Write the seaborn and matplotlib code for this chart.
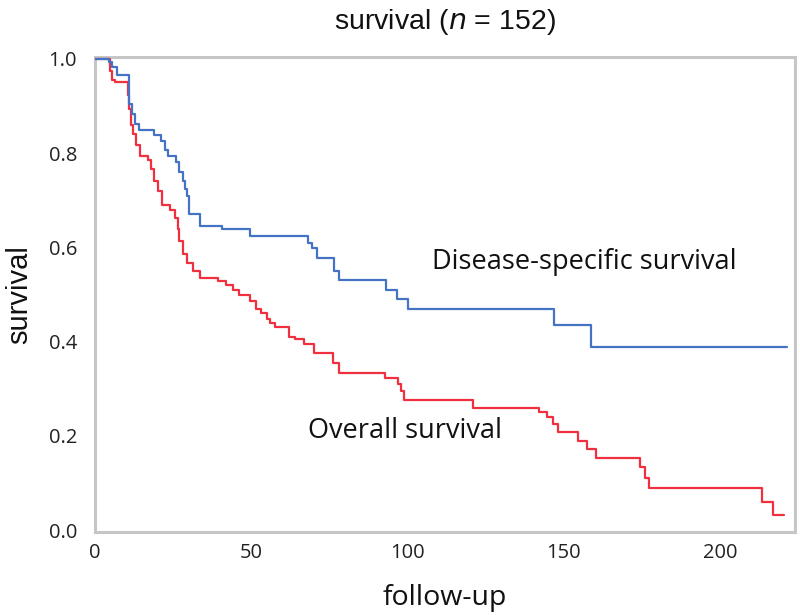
import numpy as np
import pandas as pd
import matplotlib
matplotlib.use("Agg")
import matplotlib.pyplot as plt
import seaborn as sns

# Kaplan-Meier step points (time, survival after the step)
dss_time = [0, 4.5, 5.5, 7, 11, 11.8, 12.8, 14, 16, 19, 21, 22.4, 23.4, 26, 27, 28,
            28.8, 29.4, 30, 33.6, 40.6, 49.6, 68, 69.5, 71, 76.5, 78, 93, 96.5,
            100, 147, 158.7, 221.4]
dss_surv = [1.0, 0.994, 0.983, 0.966, 0.905, 0.884, 0.862, 0.85, 0.85, 0.839, 0.825,
            0.807, 0.793, 0.782, 0.76, 0.74, 0.723, 0.708, 0.67, 0.645, 0.638,
            0.624, 0.609, 0.598, 0.577, 0.55, 0.53, 0.51, 0.49, 0.47, 0.435,
            0.389, 0.389]

os_time = [0, 4.8, 5.4, 6.4, 10.4, 11, 11.6, 12.2, 13, 14.4, 17, 18, 19, 20,
           21.4, 24, 25.6, 26.4, 27, 28, 29.4, 31.4, 33.6, 39.4, 42, 44, 46,
           49.6, 51.5, 53, 55, 56, 57.6, 62, 64, 67, 70, 76, 78, 92.8, 96.8,
           98, 99, 121, 142, 144.5, 146.5, 148, 154.6, 157.5, 160.4, 174.4,
           176, 177.4, 213.4, 217, 220.5]
os_surv = [1.0, 0.975, 0.955, 0.951, 0.924, 0.894, 0.86, 0.84, 0.818, 0.793,
           0.786, 0.767, 0.74, 0.719, 0.69, 0.68, 0.662, 0.64, 0.613, 0.585,
           0.567, 0.55, 0.535, 0.528, 0.52, 0.51, 0.50, 0.486, 0.47, 0.46,
           0.448, 0.44, 0.43, 0.41, 0.405, 0.395, 0.376, 0.355, 0.334, 0.323,
           0.31, 0.296, 0.277, 0.26, 0.25, 0.239, 0.226, 0.209, 0.19, 0.173,
           0.154, 0.133, 0.11, 0.089, 0.059, 0.032, 0.032]

x_ticks = [0, 50, 100, 150, 200]
y_ticks = [0.0, 0.2, 0.4, 0.6, 0.8, 1.0]

sns.set_style("white")
plt.rcParams['font.family'] = ['Open Sans', 'DejaVu Sans']

dss = pd.DataFrame({'time': dss_time, 'survival': dss_surv})
ovs = pd.DataFrame({'time': os_time, 'survival': os_surv})

fig = plt.figure(figsize=(8, 6.15), dpi=100)
ax = fig.add_axes([95 / 800, 83 / 615, 700 / 800, 475 / 615])

sns.lineplot(data=ovs, x='time', y='survival', ax=ax, color='#f0303f',
             linewidth=1.6, drawstyle='steps-post', estimator=None, zorder=3)
sns.lineplot(data=dss, x='time', y='survival', ax=ax, color='#4472c4',
             linewidth=1.6, drawstyle='steps-post', estimator=None, zorder=4)

ax.set_xlim(0, 224)
ax.set_ylim(-0.004, 1.004)
ax.set_xticks(x_ticks)
ax.set_yticks(y_ticks)
ax.set_xticklabels([str(t) for t in x_ticks])
ax.set_yticklabels([f"{t:.1f}" for t in y_ticks])
ax.tick_params(axis='both', which='major', labelsize=14.5, length=6, width=1.5,
               color='#c8c8c8', labelcolor='#222222', direction='out')
ax.tick_params(axis='x', pad=2)
ax.tick_params(axis='y', pad=7)
for sp in ax.spines.values():
    sp.set_color('#c6c6c6')
    sp.set_linewidth(2.2)

ax.set_xlabel('follow-up', fontsize=20.5, color='#111111', labelpad=15)
ax.set_ylabel('survival', fontsize=21, color='#111111', labelpad=11,
              family=['Liberation Sans', 'DejaVu Sans'])
ax.set_title('survival ($\\it{n}$ = 152)', fontsize=20.5, color='#111111', pad=20,
             family=['Liberation Sans', 'DejaVu Sans'])

ax.text(108, 0.57, 'Disease-specific survival', fontsize=19.5, color='#111111',
        ha='left', va='center')
ax.text(68, 0.21, 'Overall survival', fontsize=19.5, color='#111111',
        ha='left', va='center')

fig.savefig('out.png', dpi=100)
